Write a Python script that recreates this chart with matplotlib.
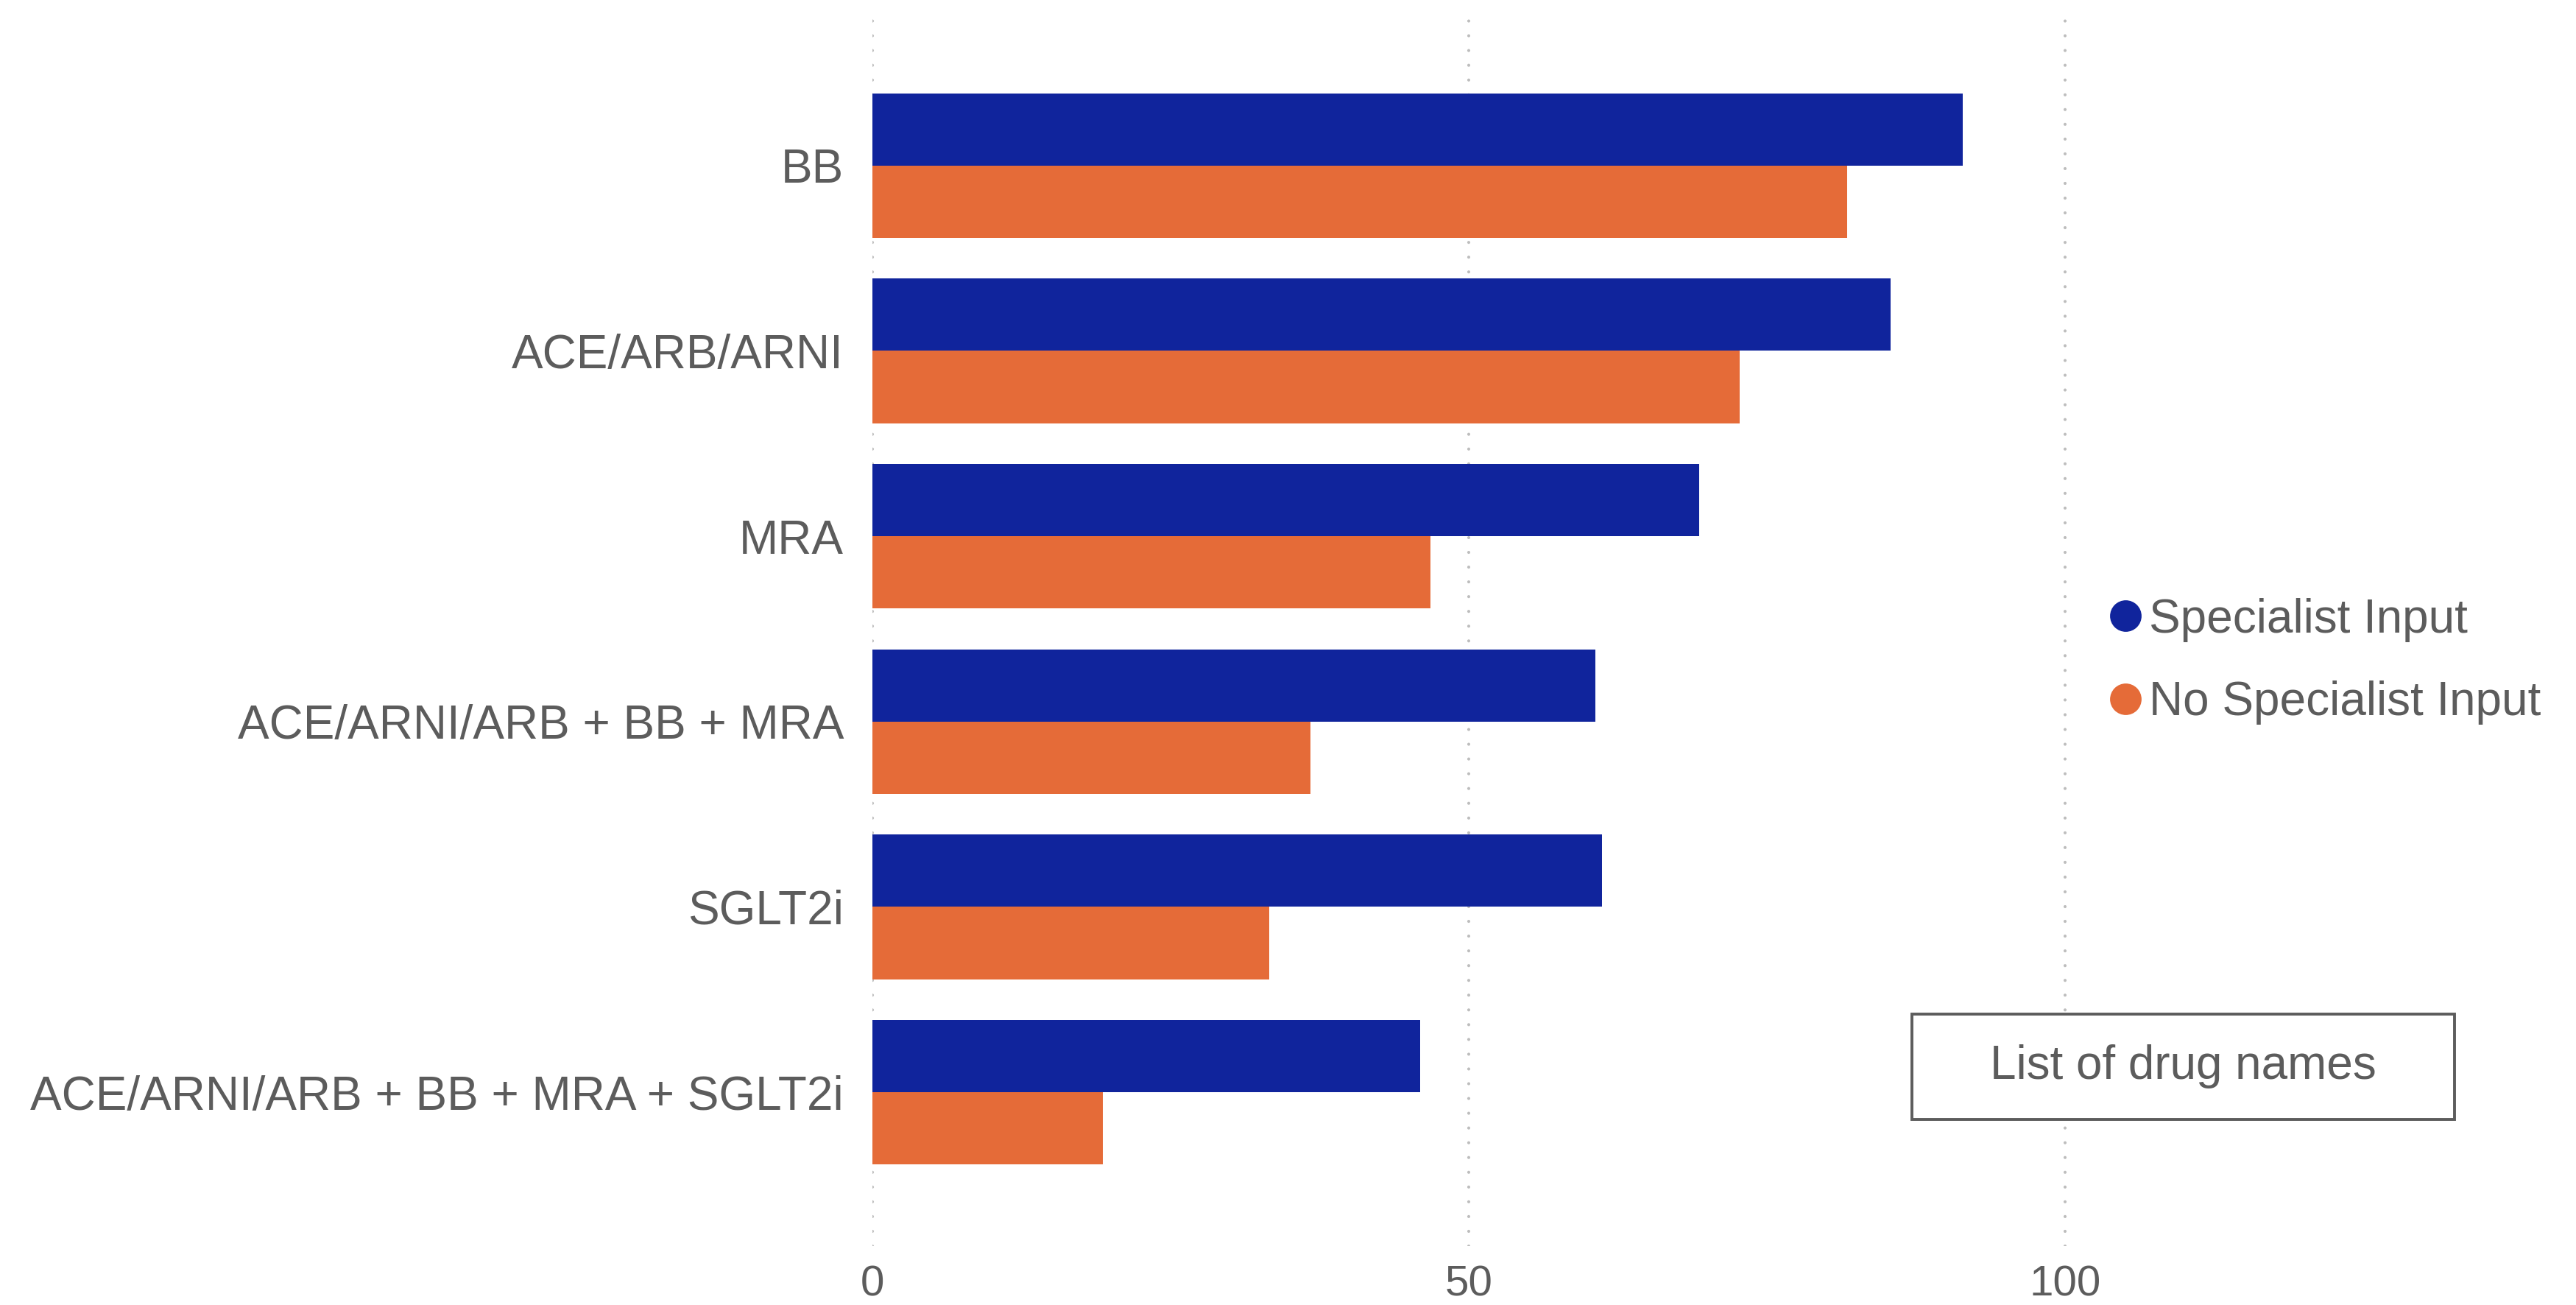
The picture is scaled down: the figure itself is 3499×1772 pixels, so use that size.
import matplotlib
matplotlib.use("Agg")
import matplotlib.pyplot as plt
import numpy as np
from matplotlib.lines import Line2D
from matplotlib.patches import Rectangle

plt.rcParams['font.family'] = ['Liberation Sans', 'DejaVu Sans']

categories = [
    "BB",
    "ACE/ARB/ARNI",
    "MRA",
    "ACE/ARNI/ARB + BB + MRA",
    "SGLT2i",
    "ACE/ARNI/ARB + BB + MRA + SGLT2i",
]
specialist = [91.4, 85.4, 69.3, 60.6, 61.2, 45.9]
no_specialist = [81.7, 72.7, 46.8, 36.7, 33.3, 19.3]
series_names = ["Specialist Input", "No Specialist Input"]
x_ticks = [0, 50, 100]
note_text = "List of drug names"

BLUE = "#10249c"
ORANGE = "#e56b38"
TEXT = "#5c5c5c"
GRID = "#bdbdbd"

W, H, DPI = 3499, 1772, 200
fig = plt.figure(figsize=(W / DPI, H / DPI), dpi=DPI)
ax = fig.add_axes([1185 / W, 1 - 1692 / H, 2268 / W, 1666 / H])

y = np.arange(len(categories))
bh = 0.39
ax.barh(y - bh / 2, specialist, height=bh, color=BLUE, zorder=3)
ax.barh(y + bh / 2, no_specialist, height=bh, color=ORANGE, zorder=3)

ax.set_xlim(0, 140)
ax.set_ylim(5.83, -0.79)
ax.set_yticks(y)
ax.set_yticklabels(categories, fontsize=23, color=TEXT)
ax.set_xticks(x_ticks)
ax.set_xticklabels([str(t) for t in x_ticks], fontsize=21, color=TEXT)
ax.tick_params(axis='y', length=0, pad=14)
ax.tick_params(axis='x', length=0, pad=9)
for s in ax.spines.values():
    s.set_visible(False)

ax.grid(axis='x', color=GRID, linewidth=1.5, linestyle=(0, (0.01, 4.8)),
        dash_capstyle='round', zorder=0)
ax.set_axisbelow(True)

handles = [
    Line2D([], [], linestyle='none', marker='o', markersize=14.4,
           markerfacecolor=c, markeredgecolor=c)
    for c in (BLUE, ORANGE)
]
leg = fig.legend(handles, series_names, loc='center left',
                 bbox_to_anchor=(2865 / W, 1 - 898 / H),
                 frameon=False, fontsize=23, labelcolor=TEXT,
                 handlelength=0.7, handletextpad=0.14, labelspacing=0.82,
                 borderpad=0, borderaxespad=0)

# note box
x0, y0, x1, y1 = 2597, 1377, 3334, 1520
fig.patches.append(Rectangle((x0 / W, 1 - y1 / H), (x1 - x0) / W, (y1 - y0) / H,
                             transform=fig.transFigure, facecolor='white',
                             edgecolor=TEXT, linewidth=1.4, zorder=5))
fig.text((x0 + x1) / 2 / W, 1 - (y0 + y1) / 2 / H, note_text,
         ha='center', va='center', fontsize=23, color=TEXT, zorder=6)

fig.savefig("out.png", dpi=DPI, facecolor='white')
